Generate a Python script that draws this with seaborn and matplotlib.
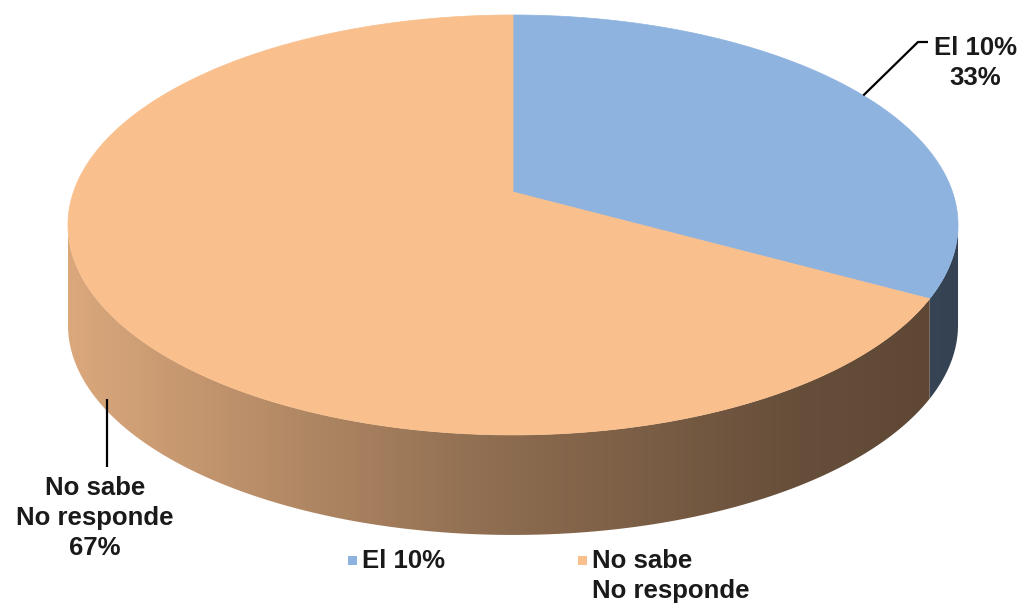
import numpy as np
import matplotlib
matplotlib.use("Agg")
import matplotlib.pyplot as plt
from matplotlib.patches import Polygon, Rectangle
import seaborn as sns

# Survey answers and their shares (percent)
categories = ["El 10%", "No sabe\nNo responde"]
values = [33, 67]
data_labels = ["El 10%\n33%", "No sabe\nNo responde\n67%"]

sns.set_theme(style="white")
plt.rcParams["font.family"] = ["Liberation Sans", "DejaVu Sans"]
palette = sns.color_palette(["#8EB3DF", "#F9BF8D"])

W, H = 1023, 605
fig = plt.figure(figsize=(W / 100, H / 100), dpi=100)
ax = fig.add_axes([0, 0, 1, 1])
ax.set_xlim(0, W)
ax.set_ylim(H, 0)
ax.axis("off")

# Perspective view of a flat cylinder (pie disc)
CX, CY = 513, 192          # screen position of the disc centre
A, B, P = 439.5, 204.8, 0.157
DEPTH = 100                # thickness of the disc in pixels


def project(t_deg, drop=0.0):
    t = np.radians(t_deg)
    u, v = np.cos(t), np.sin(t)
    d = 1 + P * v
    return CX + A * u / d, CY - B * v / d + drop


fracs = np.array(values, dtype=float) / np.sum(values)
cum = np.concatenate([[0.0], np.cumsum(fracs)])
# slices start at 12 o'clock and run clockwise
starts = 90 - 360 * cum[:-1]
ends = 90 - 360 * cum[1:]
mids = 90 - 360 * (cum[:-1] + cum[1:]) / 2

# visible side wall runs between the two silhouette angles
t_left = 180 + np.degrees(np.arcsin(P))
t_right = 360 - np.degrees(np.arcsin(P))
x_min, x_max = project(t_left)[0], project(t_right)[0]

# horizontal light falloff across the wall
shade_pos = [0.0, 0.2, 0.48, 0.82, 1.0]
shade_val = [0.88, 0.75, 0.57, 0.41, 0.37]
gx = np.linspace(x_min, x_max, 600)
gf = np.interp((gx - x_min) / (x_max - x_min), shade_pos, shade_val)


def clockwise_range(a_start, a_end):
    """Visible part of a slice arc, in degrees within [t_left, t_right]."""
    lo, hi = a_end % 360, a_end % 360 + (a_start - a_end)
    parts = []
    for off in (-360, 0, 360):
        a, b = max(lo + off, t_left), min(hi + off, t_right)
        if b > a:
            parts.append((a, b))
    return parts


y_top = CY - B
y_bot = CY + B / (1 - P) + DEPTH + 2
for k in range(len(values)):
    base = np.array(palette[k])
    img = np.clip(gf[None, :, None] * base[None, None, :], 0, 1)
    for a, b in clockwise_range(starts[k], ends[k]):
        ts = np.linspace(a, b, 300)
        xt, yt = project(ts)
        xb, yb = project(ts[::-1], DEPTH)
        wall = Polygon(list(zip(xt, yt)) + list(zip(xb, yb)), closed=True,
                       facecolor="none", edgecolor="none")
        ax.add_patch(wall)
        im = ax.imshow(img, extent=(x_min, x_max, y_bot, y_top),
                       aspect="auto", interpolation="bilinear", zorder=1)
        im.set_clip_path(wall)

# top faces
for k in range(len(values)):
    ts = np.linspace(starts[k], ends[k], 400)
    xs, ys = project(ts)
    pts = [(CX, CY)] + list(zip(xs, ys))
    ax.add_patch(Polygon(pts, closed=True, facecolor=palette[k],
                         edgecolor=palette[k], linewidth=0.5, zorder=2))

ax.set_xlim(0, W)
ax.set_ylim(H, 0)

txt_kw = dict(fontsize=18.5, fontweight="bold", color="#1a1a1a",
              linespacing=1.32)

# data label for the first slice, leader from the rim
ax0, ay0 = project(mids[0])
ax.plot([ax0, 918, 928], [ay0, 42, 42], color="black", lw=1.6,
        solid_capstyle="butt", zorder=3)
ax.text(975, 63, data_labels[0], ha="center", va="center", **txt_kw)

# data label for the second slice, leader from the lower rim
bx0, by0 = project(mids[1], DEPTH)
ax.plot([bx0 + 5, bx0 + 5], [by0 - 6, 467], color="black", lw=1.6,
        solid_capstyle="butt", zorder=3)
ax.text(95, 518, data_labels[1], ha="center", va="center", **txt_kw)

# legend
legend_x = [348, 578]
for k, lx in enumerate(legend_x):
    ax.add_patch(Rectangle((lx, 555.5), 9, 9, facecolor=palette[k],
                           edgecolor="none"))
    ax.text(lx + 14, 549, categories[k], ha="left", va="top", **txt_kw)

fig.savefig("out.png", dpi=100, facecolor="white")
